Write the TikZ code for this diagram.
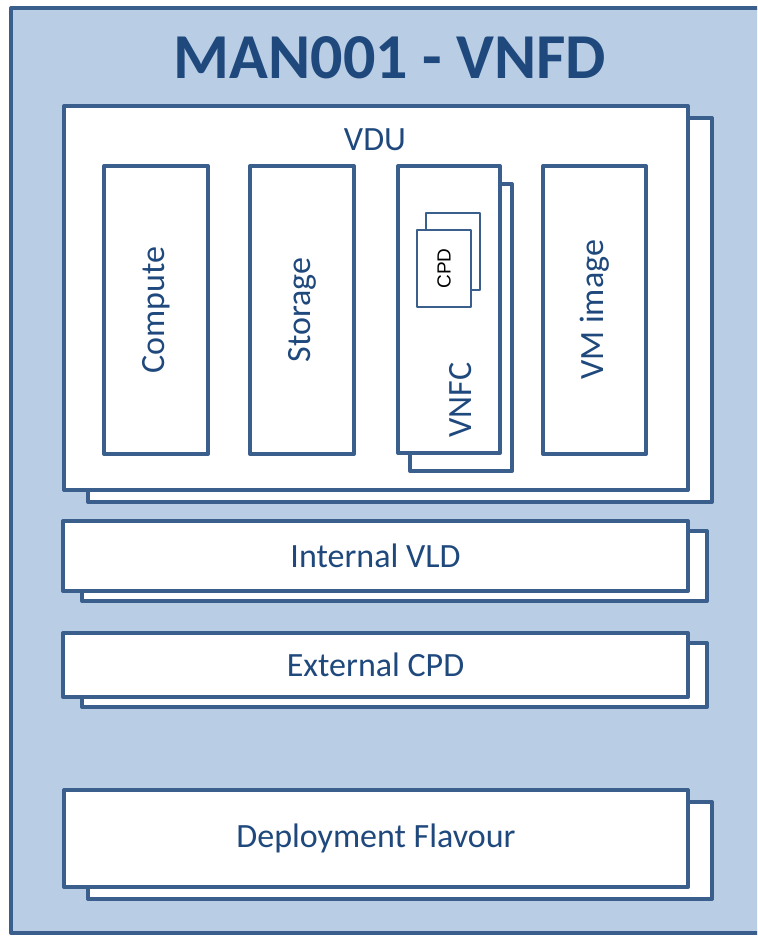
\documentclass[tikz,border=0pt]{standalone}
\usepackage{fontspec}
\setmainfont{Carlito}
\newfontfamily\arialfont{Liberation Sans}
\definecolor{panelfill}{HTML}{B9CDE5}
\definecolor{edgeblue}{HTML}{3A5F8C}
\definecolor{textblue}{HTML}{1F497D}
\tikzset{
  panel/.style={draw=edgeblue, line width=4pt, fill=panelfill, line join=round},
  boxw/.style={draw=edgeblue, line width=4pt, fill=white, line join=round, inner sep=0pt, outer sep=0pt},
  boxs/.style={draw=edgeblue, line width=2.7pt, fill=white, line join=round, inner sep=0pt, outer sep=0pt},
  lbl/.style={text=textblue, font=\fontsize{34}{40}\selectfont, inner sep=0pt},
  vlbl/.style={lbl, rotate=90},
}
\begin{document}
\begin{tikzpicture}[x=1pt, y=-1pt]
\useasboundingbox (0,0) rectangle (757,936);
\clip (0,0) rectangle (757,936);
% outer VNFD panel
\draw[panel] (11,8) rectangle (780,933);
\node[text=textblue, font=\bfseries\fontsize{64}{70}\selectfont, inner sep=0pt] (title) at (390,58) {MAN001 - VNFD};

% VDU (stacked)
\node[boxw, minimum width=624pt, minimum height=384pt] (vduback) at (400,310) {};
\node[boxw, minimum width=624pt, minimum height=384pt] (vdu) at (376,298) {};
\node[lbl] (vdulbl) at (375,140) {VDU};

% VDU contents
\node[boxw, minimum width=104pt, minimum height=288pt] (compute) at (156,310) {};
\node[vlbl] at (compute.center) {Compute};
\node[boxw, minimum width=104pt, minimum height=288pt] (storage) at (302,310) {};
\node[vlbl] at (storage.center) {Storage};
\node[boxw, minimum width=102pt, minimum height=287pt] (vnfcback) at (461,327.5) {};
\node[boxw, minimum width=102pt, minimum height=287pt] (vnfc) at (449,309.5) {};
\node[vlbl] (vnfclbl) at (461,400) {VNFC};
\node[boxs, minimum width=54pt, minimum height=77pt] (cpdback) at (453,251.5) {};
\node[boxs, minimum width=54pt, minimum height=77pt] (cpd) at (444,268.5) {};
\node[rotate=90, font=\arialfont\fontsize{19}{22}\selectfont, inner sep=0pt] at (cpd.center) {CPD};
\node[boxw, minimum width=103pt, minimum height=288pt] (vmimage) at (594.5,310) {};
\node[vlbl] at (vmimage.center) {VM image};

% Internal VLD
\node[boxw, minimum width=625pt, minimum height=70pt] (vldback) at (394.5,566) {};
\node[boxw, minimum width=625pt, minimum height=70pt] (vld) at (375.5,556) {};
\node[lbl] at (vld.center) {Internal VLD};

% External CPD
\node[boxw, minimum width=625pt, minimum height=64pt] (extback) at (394.5,675) {};
\node[boxw, minimum width=625pt, minimum height=64pt] (ext) at (375.5,665) {};
\node[lbl] at (ext.center) {External CPD};

% Deployment Flavour
\node[boxw, minimum width=624pt, minimum height=97pt] (dfback) at (400,850.5) {};
\node[boxw, minimum width=624pt, minimum height=97pt] (df) at (376,838.5) {};
\node[lbl] at (df.center) {Deployment Flavour};
\end{tikzpicture}
\end{document}
